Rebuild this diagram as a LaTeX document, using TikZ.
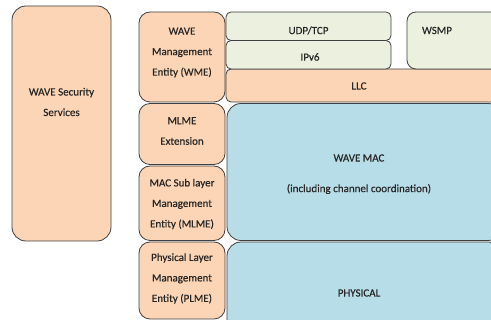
\documentclass[tikz,border=0pt]{standalone}
\usepackage{fontspec}
\setmainfont{Carlito}[FakeBold=0.4]
\definecolor{peach}{HTML}{FBD5B5}
\definecolor{sage}{HTML}{EBF1DE}
\definecolor{sky}{HTML}{B7DDE8}
\definecolor{edge}{HTML}{404040}
\definecolor{ink}{HTML}{262626}
\begin{document}
\begin{tikzpicture}[x=1pt,y=-1pt,
  layer/.style={draw=edge, line width=0.8pt, rounded corners=#1},
  layer/.default=11pt,
  lbl/.style={text=ink, font=\fontsize{11}{20.5}\selectfont, align=center, inner sep=0pt}]
\useasboundingbox (0,0) rectangle (491,320);
\fill[white] (0,0) rectangle (491,320);
\clip (0,0) rectangle (491,320);

% security services column
\draw[layer=14pt, fill=peach] (12,6) rectangle (111,241);
\node[lbl] (sec) at (61.5,102) {WAVE Security\\Services};

% management entities
\draw[layer=11pt, fill=peach] (139,12) rectangle (225,102);
\node[lbl] (wme) at (182,52.5) {WAVE\\Management\\Entity (WME)};
\draw[layer=11pt, fill=peach] (139,103.5) rectangle (225,164.5);
\node[lbl] (mlmex) at (182,131) {MLME\\Extension};
\draw[layer=11pt, fill=peach] (139,166) rectangle (225,240.5);
\node[lbl] (mlme) at (182,204) {MAC Sub layer\\Management\\Entity (MLME)};
\draw[layer=11pt, fill=peach] (139,242) rectangle (225,319);
\node[lbl] (plme) at (182,278.5) {Physical Layer\\Management\\Entity (PLME)};

% data plane stack
\draw[layer=14pt, fill=sky] (227,103.5) rectangle (502,240.5);
\node[lbl] (mac) at (359,158) {WAVE MAC};
\node[lbl] (macsub) at (359,189) {(including channel coordination)};
\draw[layer=14pt, fill=sky] (227,242) rectangle (502,335);
\node[lbl] (phy) at (359,293) {PHYSICAL};
\draw[layer=5pt, fill=peach] (226,69) rectangle (515,102);
\node[lbl] (llc) at (359,86) {LLC};
\draw[layer=5pt, fill=sage] (226,12) rectangle (391,40.5);
\node[lbl] (udp) at (308.5,30.5) {UDP/TCP};
\draw[layer=5pt, fill=sage] (226,40.5) rectangle (391,69);
\node[lbl] (ipv6) at (310,57) {IPv6};
\draw[layer=9pt, fill=sage] (407,12) rectangle (515,69);
\node[lbl] (wsmp) at (437,30.5) {WSMP};
\end{tikzpicture}
\end{document}
